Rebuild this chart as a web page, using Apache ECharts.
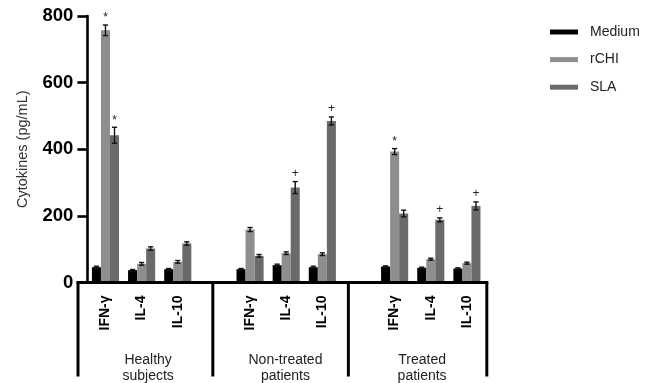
<!DOCTYPE html>
<html>
<head>
<meta charset="utf-8">
<script src="https://cdn.jsdelivr.net/npm/echarts@6/dist/echarts.min.js"></script>
<style>
  html, body { margin: 0; padding: 0; background: #fff; }
  #chart { width: 654px; height: 383px; }
</style>
</head>
<body>
<div id="chart"></div>
<script>
// Cytokine levels (pg/mL) per stimulus; empty slots separate the three cohorts
const categories = ['IFN-γ', 'IL-4', 'IL-10', '', 'IFN-γ', 'IL-4', 'IL-10', '', 'IFN-γ', 'IL-4', 'IL-10'];
const groups = ['Healthy\nsubjects', 'Non-treated\npatients', 'Treated\npatients'];
const seriesNames = ['Medium', 'rCHI', 'SLA'];

const medium    = [46, 37, 40, '-', 40, 52, 46, '-', 48, 44, 42];
const mediumErr = [3, 2, 2, '-', 2, 3, 3, '-', 2, 2, 2];
const rchi      = [757, 56, 62, '-', 159, 88, 85, '-', 393, 70, 58];
const rchiErr   = [16, 4, 4, '-', 6, 4, 4, '-', 9, 3, 3];
const sla       = [442, 102, 117, '-', 80, 285, 485, '-', 207, 188, 230];
const slaErr    = [24, 5, 5, '-', 4, 18, 12, '-', 10, 6, 12];

// significance symbols shown above the error bars
const mediumMarks = ['', '', '', '', '', '', '', '', '', '', ''];
const rchiMarks   = ['*', '', '', '', '', '', '', '', '*', '', ''];
const slaMarks    = ['*', '', '', '', '', '+', '+', '', '', '+', '+'];

const yMin = 0, yMax = 800, yStep = 200;

// ---- layout ----
const FONT = 'Arial, "Liberation Sans", sans-serif';
const colors = ['#000000', '#8e8e8e', '#6a6a6a'];
const BAR_GAP_FRAC = 0.25;
// bracket edges and group label centres, in category-slot units
const bracketEdges = [-0.76, 2.97, 6.72, 10.55];
const groupLabelAt = [1.18, 4.98, 8.76];

const values = [medium, rchi, sla];
const errors = [mediumErr, rchiErr, slaErr];
const marks = [mediumMarks, rchiMarks, slaMarks];

function errorSeries(k) {
  const data = [];
  values[k].forEach((v, i) => {
    if (v !== '-') data.push([i, v, errors[k][i]]);
  });
  return {
    type: 'custom',
    name: seriesNames[k] + ' SEM',
    z: 5,
    silent: true,
    encode: { x: 0, y: 1 },
    data: data,
    renderItem: function (params, api) {
      const i = api.value(0), v = api.value(1), e = api.value(2);
      const band = api.size([1, 0])[0];
      const bw = band * (1 - BAR_GAP_FRAC) / 3;
      const cx = api.coord([i, v])[0] + (k - 1) * bw;
      const top = api.coord([i, v + e])[1];
      const bot = api.coord([i, Math.max(v - e, 0)])[1];
      const cap = 2.6;
      const st = { stroke: '#111', lineWidth: 1.4 };
      const children = [
        { type: 'line', shape: { x1: cx, y1: top, x2: cx, y2: bot }, style: st },
        { type: 'line', shape: { x1: cx - cap, y1: top, x2: cx + cap, y2: top }, style: st },
        { type: 'line', shape: { x1: cx - cap, y1: bot, x2: cx + cap, y2: bot }, style: st }
      ];
      const m = marks[k][i];
      if (m) {
        children.push({
          type: 'text',
          style: {
            text: m, x: cx, y: top - (m === '*' ? 1 : 2),
            align: 'center', verticalAlign: 'bottom',
            font: '12px ' + FONT, fill: '#222'
          }
        });
      }
      return { type: 'group', children: children };
    }
  };
}

const chart = echarts.init(document.getElementById('chart'), null, { renderer: 'canvas' });

const option = {
  animation: false,
  backgroundColor: '#fff',
  grid: { left: 87.4, right: 169, top: 16, bottom: 100.5, containLabel: false },
  legend: {
    data: seriesNames,
    orient: 'vertical',
    left: 545,
    top: 20,
    icon: 'rect',
    itemWidth: 28,
    itemHeight: 5,
    itemGap: 13.6,
    textStyle: { fontFamily: FONT, fontSize: 14, color: '#222', padding: [0, 0, 0, 7] }
  },
  xAxis: {
    type: 'category',
    data: categories,
    boundaryGap: true,
    axisLine: { show: false },
    axisTick: { show: false },
    axisLabel: {
      rotate: 90,
      margin: 13,
      interval: 0,
      fontFamily: FONT,
      fontSize: 14,
      fontWeight: 'bold',
      color: '#000'
    },
    splitLine: { show: false }
  },
  yAxis: {
    type: 'value',
    min: yMin,
    max: yMax,
    interval: yStep,
    name: 'Cytokines (pg/mL)',
    nameLocation: 'middle',
    nameRotate: 90,
    nameGap: 57,
    nameTextStyle: { fontFamily: FONT, fontSize: 14.5, color: '#333' },
    axisLine: { show: true, lineStyle: { color: '#000', width: 2.6 } },
    axisTick: { show: true, length: 10, lineStyle: { color: '#000', width: 2.6 } },
    axisLabel: {
      margin: 14,
      fontFamily: FONT,
      fontSize: 18.5,
      fontWeight: 'bold',
      color: '#000'
    },
    splitLine: { show: false }
  },
  series: [0, 1, 2].map(k => ({
    type: 'bar',
    name: seriesNames[k],
    data: values[k],
    barGap: '0%',
    barCategoryGap: (BAR_GAP_FRAC * 100) + '%',
    itemStyle: { color: colors[k] },
    z: 2
  })).concat([0, 1, 2].map(errorSeries))
};

chart.setOption(option);

// bracket-style group axis under the cytokine labels
function slotToPx(s) {
  const p0 = chart.convertToPixel({ xAxisIndex: 0 }, 0);
  const p1 = chart.convertToPixel({ xAxisIndex: 0 }, 1);
  return p0 + s * (p1 - p0);
}
const y0 = chart.convertToPixel({ yAxisIndex: 0 }, 0);
const yBottom = y0 + 94;
const lineStyle = { stroke: '#000', lineWidth: 3 };
const graphics = [];
const xs = bracketEdges.map(slotToPx);
graphics.push({
  type: 'line', z: 10,
  shape: { x1: xs[0] - 1.5, y1: y0, x2: xs[xs.length - 1] + 1.5, y2: y0 },
  style: lineStyle
});
xs.forEach(x => {
  graphics.push({
    type: 'line', z: 10,
    shape: { x1: x, y1: y0, x2: x, y2: yBottom },
    style: lineStyle
  });
});
groups.forEach((g, j) => {
  graphics.push({
    type: 'text', z: 10,
    style: {
      text: g,
      x: slotToPx(groupLabelAt[j]),
      y: y0 + 86,
      align: 'center',
      verticalAlign: 'middle',
      lineHeight: 16,
      font: '14px ' + FONT,
      fill: '#222'
    }
  });
});
chart.setOption({ graphic: graphics });
</script>
</body>
</html>
